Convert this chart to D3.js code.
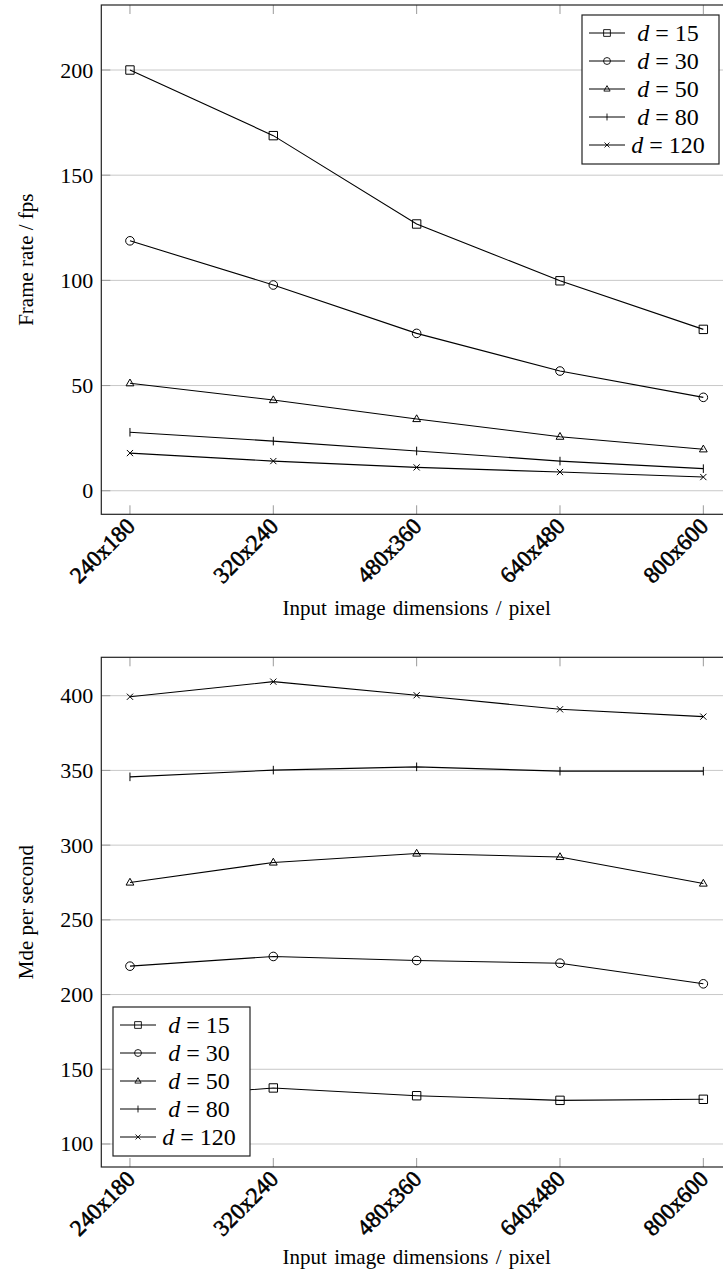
<!DOCTYPE html>
<html>
<head>
<meta charset="utf-8">
<script src="https://cdn.jsdelivr.net/npm/d3@7"></script>
<style>
  html, body { margin: 0; padding: 0; background: #fff; }
  svg { display: block; }
</style>
</head>
<body>
<svg id="chart" width="723" height="1276" font-family="'Liberation Serif', 'DejaVu Serif', 'Noto Serif', 'Nimbus Roman', 'Nimbus Roman No9 L', FreeSerif, Tinos, 'Latin Modern Roman', 'CMU Serif', Times, Georgia, serif"></svg>
<script>
// Input image sizes (x categories)
const categories = ["240x180", "320x240", "480x360", "640x480", "800x600"];
// Window sizes d, one series each
const dValues = [15, 30, 50, 80, 120];
const markers = ["square", "circle", "triangle", "bar", "cross"];

// Frame rate (fps) per window size
const fpsD15 = [200, 168.8, 126.8, 99.8, 76.7];
const fpsD30 = [118.8, 97.8, 74.8, 56.9, 44.4];
const fpsD50 = [51.1, 43.1, 34.1, 25.7, 19.7];
const fpsD80 = [27.8, 23.6, 18.9, 14.1, 10.5];
const fpsD120 = [17.9, 14.1, 11.1, 8.9, 6.5];

// Mde per second per window size
const mdeD15 = [130, 137.5, 132.3, 129.2, 129.9];
const mdeD30 = [219, 225.5, 222.8, 221, 207.2];
const mdeD50 = [275, 288.4, 294.4, 292.1, 274.3];
const mdeD80 = [345.7, 350.2, 352.4, 349.5, 349.5];
const mdeD120 = [399.3, 409.4, 400.3, 390.9, 386];

// Axis ticks
const fpsTicks = [0, 50, 100, 150, 200];
const mdeTicks = [100, 150, 200, 250, 300, 350, 400];

const svg = d3.select("#chart");

function markerPath(type) {
  switch (type) {
    case "square": return "M-4.2,-4.2H4.2V4.2H-4.2Z";
    case "circle": return d3.symbol(d3.symbolCircle, Math.PI * 4.3 * 4.3)();
    case "triangle": return "M0,-4.2L3.9,2.6H-3.9Z";
    case "bar": return "M0,-4.3V4.3";
    case "cross": return "M-3.1,-3.1L3.1,3.1M-3.1,3.1L3.1,-3.1";
  }
}

function drawChart(cfg) {
  const { top, bottom, left, right, yDomain, ticks, series, yLabel, xLabelY, legend } = cfg;

  const x = d3.scalePoint().domain(categories).range([left, right]).padding(0.2);
  const y = d3.scaleLinear().domain(yDomain).range([bottom, top]);

  const g = svg.append("g");
  const clipId = "clip" + Math.round(top);
  g.append("clipPath").attr("id", clipId)
    .append("rect").attr("x", left).attr("y", top)
    .attr("width", right - left).attr("height", bottom - top);

  // horizontal grid
  g.append("g").selectAll("line").data(ticks).join("line")
    .attr("x1", left).attr("x2", right)
    .attr("y1", d => y(d)).attr("y2", d => y(d))
    .attr("stroke", "#c8c8c8").attr("stroke-width", 1);

  // inner tick marks
  const tk = g.append("g").attr("stroke", "#9a9a9a").attr("stroke-width", 1);
  tk.selectAll(".yl").data(ticks).join("line")
    .attr("x1", left).attr("x2", left + 9)
    .attr("y1", d => y(d)).attr("y2", d => y(d));
  tk.selectAll(".xb").data(categories).join("line")
    .attr("x1", d => x(d)).attr("x2", d => x(d))
    .attr("y1", bottom).attr("y2", bottom - 9);
  tk.selectAll(".xt").data(categories).join("line")
    .attr("x1", d => x(d)).attr("x2", d => x(d))
    .attr("y1", top).attr("y2", top + 9);

  // series lines and markers
  const line = d3.line().x((d, i) => x(categories[i])).y(d => y(d));
  const sg = g.append("g").attr("clip-path", `url(#${clipId})`);
  series.forEach((vals, si) => {
    sg.append("path").datum(vals).attr("d", line)
      .attr("fill", "none").attr("stroke", "#000").attr("stroke-width", 1.1);
    sg.append("g").selectAll("path").data(vals).join("path")
      .attr("transform", (d, i) => `translate(${x(categories[i])},${y(d)})`)
      .attr("d", markerPath(markers[si]))
      .attr("fill", "none").attr("stroke", "#000").attr("stroke-width", 1);
  });

  // frame
  g.append("rect").attr("x", left).attr("y", top)
    .attr("width", right - left).attr("height", bottom - top)
    .attr("fill", "none").attr("stroke", "#222").attr("stroke-width", 1.2);

  // y tick labels
  g.append("g").selectAll("text").data(ticks).join("text")
    .attr("x", left - 8).attr("y", d => y(d))
    .attr("text-anchor", "end").attr("dominant-baseline", "central")
    .attr("font-size", 22).attr("fill", "#000").text(d => d);

  // x tick labels, rotated
  g.append("g").selectAll("text").data(categories).join("text")
    .attr("transform", d => `translate(${x(d) + 1},${bottom + 8}) rotate(-45)`)
    .attr("text-anchor", "end").attr("dominant-baseline", "central")
    .attr("font-size", 23).attr("fill", "#000")
    .attr("stroke", "#000").attr("stroke-width", 0.6)
    .text(d => d);

  // axis titles
  g.append("text")
    .attr("x", (x(categories[0]) + x(categories[4])) / 2)
    .attr("y", xLabelY).attr("text-anchor", "middle").attr("dominant-baseline", "central")
    .attr("font-size", 21).attr("fill", "#000").attr("word-spacing", 2)
    .text("Input image dimensions / pixel");

  g.append("text")
    .attr("transform", `translate(26,${(top + bottom) / 2}) rotate(-90)`)
    .attr("text-anchor", "middle").attr("dominant-baseline", "central")
    .attr("font-size", 21).attr("fill", "#000").text(yLabel);

  // legend
  const lg = g.append("g").attr("transform", `translate(${legend.x},${legend.y})`);
  lg.append("rect").attr("width", 137).attr("height", 149)
    .attr("fill", "#fff").attr("stroke", "#222").attr("stroke-width", 1.2);
  dValues.forEach((dv, i) => {
    const ly = 18 + i * 28;
    lg.append("line").attr("x1", 7).attr("x2", 43).attr("y1", ly).attr("y2", ly)
      .attr("stroke", "#000").attr("stroke-width", 1);
    lg.append("path").attr("transform", `translate(25,${ly}) scale(0.8)`)
      .attr("d", markerPath(markers[i]))
      .attr("fill", "none").attr("stroke", "#000").attr("stroke-width", 1.1);
    const t = lg.append("text").attr("x", 86).attr("y", ly)
      .attr("text-anchor", "middle").attr("dominant-baseline", "central")
      .attr("font-size", 24).attr("fill", "#000");
    t.append("tspan").attr("font-style", "italic").text("d");
    t.append("tspan").text(" = " + dv);
  });
}

drawChart({
  top: 5, bottom: 514.3, left: 101.3, right: 732,
  yDomain: [-11.2, 230.9], ticks: fpsTicks,
  series: [fpsD15, fpsD30, fpsD50, fpsD80, fpsD120],
  yLabel: "Frame rate / fps", xLabelY: 608,
  legend: { x: 582, y: 15 }
});

drawChart({
  top: 657.3, bottom: 1167, left: 101.3, right: 732,
  yDomain: [84.6, 425.7], ticks: mdeTicks,
  series: [mdeD15, mdeD30, mdeD50, mdeD80, mdeD120],
  yLabel: "Mde per second", xLabelY: 1257,
  legend: { x: 113, y: 1007 }
});
</script>
</body>
</html>
